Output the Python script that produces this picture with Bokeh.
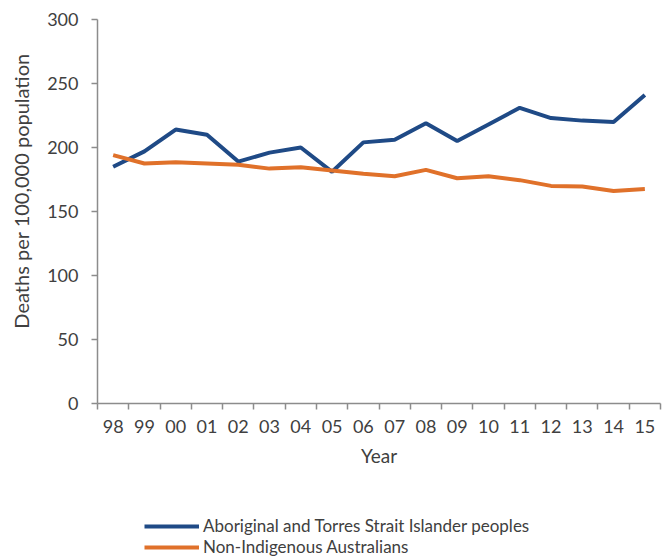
import numpy as np
from bokeh.plotting import figure
from bokeh.layouts import column
from bokeh.models import Range1d, FixedTicker, Legend, LegendItem
from bokeh.embed import file_html
from bokeh.resources import INLINE

years = ["98", "99", "00", "01", "02", "03", "04", "05", "06",
         "07", "08", "09", "10", "11", "12", "13", "14", "15"]
indigenous = [185, 197, 214, 210, 189, 196, 200, 181, 204,
              206, 219, 205, 218, 231, 223, 221, 220, 241]
non_indigenous = [194, 187.5, 188.5, 187.5, 186.5, 183.5, 184.5, 182, 179.5,
                  177.5, 182.5, 176, 177.5, 174.5, 170, 169.5, 166, 167.5]
y_ticks = [0, 50, 100, 150, 200, 250, 300]
series_names = ["Aboriginal and Torres Strait Islander peoples", "Non-Indigenous Australians"]

FONT = "Lato"
TXT = "#404040"
AXC = "#8c8c8c"
BLUE = "#1f4a86"
ORANGE = "#e0712a"

n = len(years)
x = np.arange(n) + 0.5

p = figure(width=667, height=480, x_range=Range1d(0, n), y_range=Range1d(0, 300),
           output_backend="svg", toolbar_location=None,
           min_border_left=97, min_border_right=7, min_border_top=19, min_border_bottom=77)
p.outline_line_color = None
p.xgrid.visible = False
p.ygrid.visible = False
p.background_fill_color = "white"
p.border_fill_color = "white"

p.line(x, indigenous, line_color=BLUE, line_width=4)
p.line(x, non_indigenous, line_color=ORANGE, line_width=4)

xa = p.xaxis[0]
xa.ticker = FixedTicker(ticks=list(x), minor_ticks=list(range(n + 1)))
xa.major_label_overrides = {float(xi): yr for xi, yr in zip(x, years)}
xa.major_tick_out = 0
xa.major_tick_in = 0
xa.minor_tick_out = 6
xa.minor_tick_in = 0
xa.minor_tick_line_color = AXC
xa.minor_tick_line_width = 1.5
xa.axis_line_color = AXC
xa.axis_line_width = 1.5
xa.major_label_standoff = 10
xa.axis_label = "Year"
xa.axis_label_standoff = 8

ya = p.yaxis[0]
ya.ticker = FixedTicker(ticks=y_ticks, minor_ticks=[])
ya.major_tick_out = 6
ya.major_tick_in = 0
ya.major_tick_line_color = AXC
ya.major_tick_line_width = 1.5
ya.axis_line_color = AXC
ya.axis_line_width = 1.5
ya.major_label_standoff = 13
ya.axis_label = "\u00a0" * 8 + "Deaths per 100,000 population"
ya.axis_label_standoff = 11

for ax in (xa, ya):
    ax.major_label_text_font = FONT
    ax.major_label_text_font_size = "18px"
    ax.major_label_text_color = TXT
    ax.axis_label_text_font = FONT
    ax.axis_label_text_font_size = "19px"
    ax.axis_label_text_font_style = "normal"
    ax.axis_label_text_color = TXT
ya.axis_label_text_font_size = "20px"

# legend panel below the chart (its lines use the same data but lie outside its view)
lg = figure(width=667, height=79, x_range=Range1d(0, 1), y_range=Range1d(-2, -1),
            output_backend="svg", toolbar_location=None,
            x_axis_location=None, y_axis_location=None,
            min_border_left=0, min_border_right=0, min_border_top=0, min_border_bottom=0)
lg.outline_line_color = None
lg.xgrid.visible = False
lg.ygrid.visible = False
k1 = lg.line(x, indigenous, line_color=BLUE, line_width=4)
k2 = lg.line(x, non_indigenous, line_color=ORANGE, line_width=4)

legend = Legend(items=[LegendItem(label=series_names[0], renderers=[k1]),
                       LegendItem(label=series_names[1], renderers=[k2])],
                location=(47, 2), orientation="vertical")
legend.padding = 0
legend.margin = 0
legend.spacing = 0
legend.border_line_color = None
legend.background_fill_alpha = 0
legend.glyph_width = 55
legend.glyph_height = 20
legend.label_height = 20
legend.label_standoff = 4
legend.label_text_font = FONT
legend.label_text_font_size = "17px"
legend.label_text_color = TXT
lg.add_layout(legend, "center")

layout = column(p, lg, spacing=0)
open("out.html", "w").write(file_html(layout, INLINE))
